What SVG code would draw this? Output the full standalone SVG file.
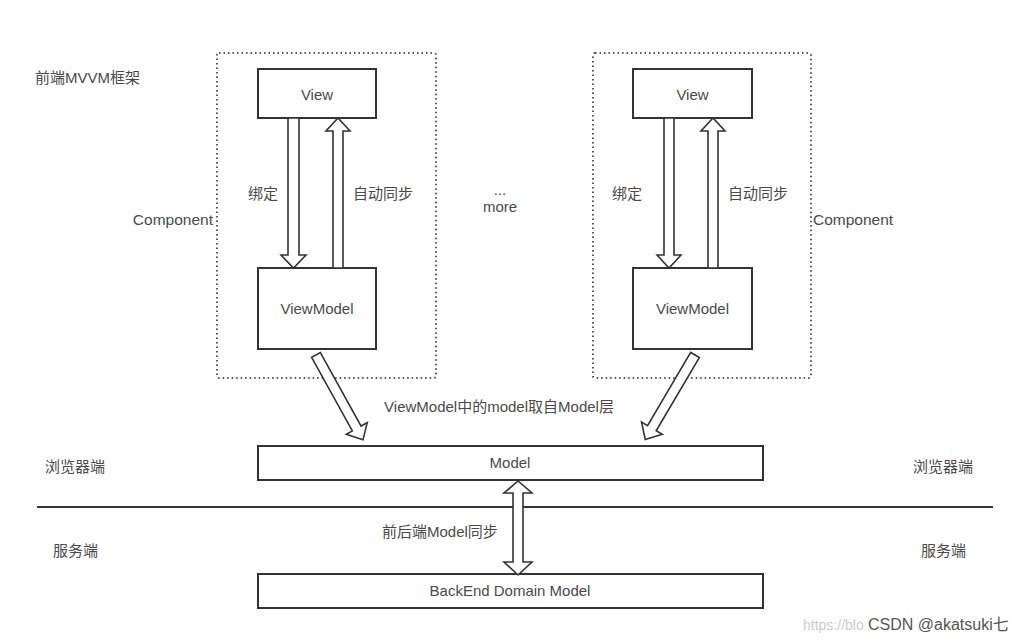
<svg xmlns="http://www.w3.org/2000/svg" width="1025" height="642" viewBox="0 0 1025 642">
<style>
text{font-family:"Liberation Sans","Noto Sans CJK SC",sans-serif;font-size:15px;fill:#4a4a4a}
.c{text-anchor:middle}
.box{fill:#fff;stroke:#333;stroke-width:2}
.dot{fill:none;stroke:#555;stroke-width:2;stroke-dasharray:1.5 3}
.arr{fill:#fff;stroke:#333;stroke-width:1.6;stroke-linejoin:miter}
</style>
<rect width="1025" height="642" fill="#fff"/>
<g id="labels">
<text x="35" y="83">前端MVVM框架</text>
<text x="500" y="195" class="c">...</text>
<text x="500" y="212" class="c">more</text>
<text x="45" y="472">浏览器端</text>
<text x="913" y="472">浏览器端</text>
<text x="53" y="556">服务端</text>
<text x="921" y="556">服务端</text>
<text x="499" y="412" class="c">ViewModel中的model取自Model层</text>
<text x="382" y="537">前后端Model同步</text>
</g>
<g id="component-left">
<rect class="dot" x="217" y="53" width="219" height="325" rx="2"/>
<text x="213" y="225" text-anchor="end" style="font-size:15.5px">Component</text>
</g>
<g id="component-right">
<rect class="dot" x="593" y="53" width="218" height="325" rx="2"/>
<text x="813" y="225" style="font-size:15.5px">Component</text>
</g>
<g id="view-left"><rect class="box" x="258" y="69" width="118" height="49"/><text x="317" y="100" class="c">View</text></g>
<g id="viewmodel-left"><rect class="box" x="258" y="268" width="118" height="81"/><text x="317" y="314" class="c">ViewModel</text></g>
<g id="view-right"><rect class="box" x="633" y="69" width="119" height="49"/><text x="692.5" y="100" class="c">View</text></g>
<g id="viewmodel-right"><rect class="box" x="633" y="268" width="119" height="81"/><text x="692.5" y="314" class="c">ViewModel</text></g>
<g id="model"><rect class="box" x="258" y="446" width="505" height="34"/><text x="510" y="468" class="c">Model</text></g>
<g id="backend"><rect class="box" x="258" y="574" width="505" height="34"/><text x="510" y="596" class="c">BackEnd Domain Model</text></g>
<g id="connectors">
<line x1="37" y1="507" x2="993" y2="507" stroke="#333" stroke-width="2.2"/>
<polygon class="arr" points="288,118 299,118 299,255 306,255 293.5,268 281,255 288,255"/>
<polygon class="arr" points="333,268 333,131 326,131 338,118 350,131 343,131 343,268"/>
<polygon class="arr" points="664,118 674,118 674,255 681,255 669,268 657,255 664,255"/>
<polygon class="arr" points="708,268 708,131 701,131 713,118 725,131 718,131 718,268"/>
<polygon class="arr" points="513,493 504,493 518,481 532,493 523,493 523,562 532,562 518,575 504,562 513,562"/>
<polygon class="arr" transform="translate(316,355) rotate(61)" points="0,-5 84,-5 84,-12 97,0 84,12 84,5 0,5"/>
<polygon class="arr" transform="translate(695,355) rotate(120.5)" points="0,-5 85,-5 85,-12 98,0 85,12 85,5 0,5"/>
<text x="248" y="199">绑定</text>
<text x="353" y="199">自动同步</text>
<text x="612" y="199">绑定</text>
<text x="728" y="199">自动同步</text>
</g>
<g id="watermark">
<text x="803" y="630" style="fill:#ccc;font-size:14px">https://blo</text>
<text x="868" y="630" style="fill:#555;font-size:16px;stroke:#fff;stroke-width:3;paint-order:stroke">CSDN @akatsuki七</text>
</g>
</svg>
